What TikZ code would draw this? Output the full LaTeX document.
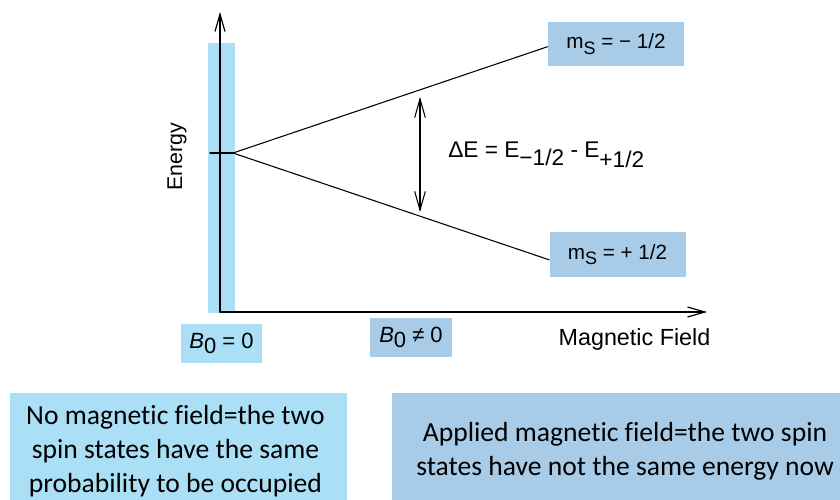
\documentclass[tikz,border=0pt]{standalone}
\usepackage{fontspec}
\setmainfont{Liberation Sans}
\newfontfamily\calibri[Ligatures=NoCommon]{Carlito}
\usetikzlibrary{arrows.meta,calc}

\definecolor{barcyan}{RGB}{170,223,245}
\definecolor{boxblue}{RGB}{168,204,232}

\tikzset{
  axis/.style={line width=0.9pt, -{Straight Barb[length=13pt,width=7.5pt,line width=0.9pt]}},
  level/.style={line width=0.8pt},
  lbl/.style={inner sep=0pt, font=\fontsize{15}{18}\selectfont},
  statebox/.style={fill=boxblue, inner sep=0pt, minimum width=102pt, minimum height=33.5pt, font=\fontsize{15.5}{18}\selectfont},
  fieldbox/.style={inner sep=0pt, minimum width=61pt, minimum height=29pt, font=\fontsize{16.5}{18}\selectfont},
  notetext/.style={inner sep=0pt, align=center, font=\calibri\fontsize{20.7}{25.5}\selectfont}
}

\begin{document}
\begin{tikzpicture}[x=0.75pt, y=-0.75pt, line cap=round, line join=round]
  % Page is 840 x 500 px, y grows downwards
  \useasboundingbox (0,0) rectangle (840,500);

  % Blue strip for B0 = 0
  \fill[barcyan] (208,43) rectangle (235,313);

  % Axes
  \coordinate (O) at (220,312);
  \coordinate (ytop) at (220,12);
  \coordinate (xend) at (707,312);
  \draw[axis] (O) -- (ytop);
  \draw[axis] (O) -- (xend);

  % Axis labels
  \node[lbl, font=\fontsize{16}{18}\selectfont, rotate=90] (energy) at (177,157) {Energy};
  \node[lbl, font=\fontsize{17.5}{20}\selectfont] (field) at (634.5,339) {Magnetic Field};

  % Spin state boxes
  \node[statebox] (up) at (616,44) {m\raisebox{-0.5ex}{\fontsize{13.5}{13}\selectfont S} = − 1/2};
  \node[statebox] (down) at (617.5,254.5) {m\raisebox{-0.5ex}{\fontsize{13.5}{13}\selectfont S} = + 1/2};

  % Zeeman splitting
  \coordinate (tick) at (210,153);
  \coordinate (split) at (233,153);
  \draw[level] (tick) -- (split);
  \draw[level] (split) -- ([yshift=-2pt]up.west);
  \draw[level] (split) -- ([yshift=-4pt]down.west);

  % Energy gap
  \coordinate (gapU) at (420,97);
  \coordinate (gapD) at (420,212);
  \draw[line width=0.8pt, {Straight Barb[length=14pt,width=8pt,line width=0.8pt]}-{Straight Barb[length=14pt,width=8pt,line width=0.8pt]}] (gapU) -- (gapD);
  \node[lbl, font=\fontsize{17}{20}\selectfont, anchor=west] (gap) at (448,155)
    {ΔE = E\raisebox{-0.6ex}{−1/2} - E\raisebox{-0.8ex}{+1/2}};

  % Field values
  \node[fieldbox, fill=barcyan] (zero) at (221.5,343.5) {\textit{B}\raisebox{-0.5ex}{0} = 0};
  \node[fieldbox, fill=boxblue] (nonzero) at (411,337.5) {\textit{B}\raisebox{-0.5ex}{0} ≠ 0};

  % Notes at the bottom
  \fill[barcyan] (10,393) rectangle (347,500);
  \node[notetext] (noteA) at (175.5,451.5)
    {No magnetic field=the two\\spin states have the same\\probability to be occupied};
  \fill[boxblue] (392,393) rectangle (840,500);
  \node[notetext] (noteB) at (625,451.5)
    {Applied magnetic field=the two spin\\states have not the same energy now};
\end{tikzpicture}
\end{document}
